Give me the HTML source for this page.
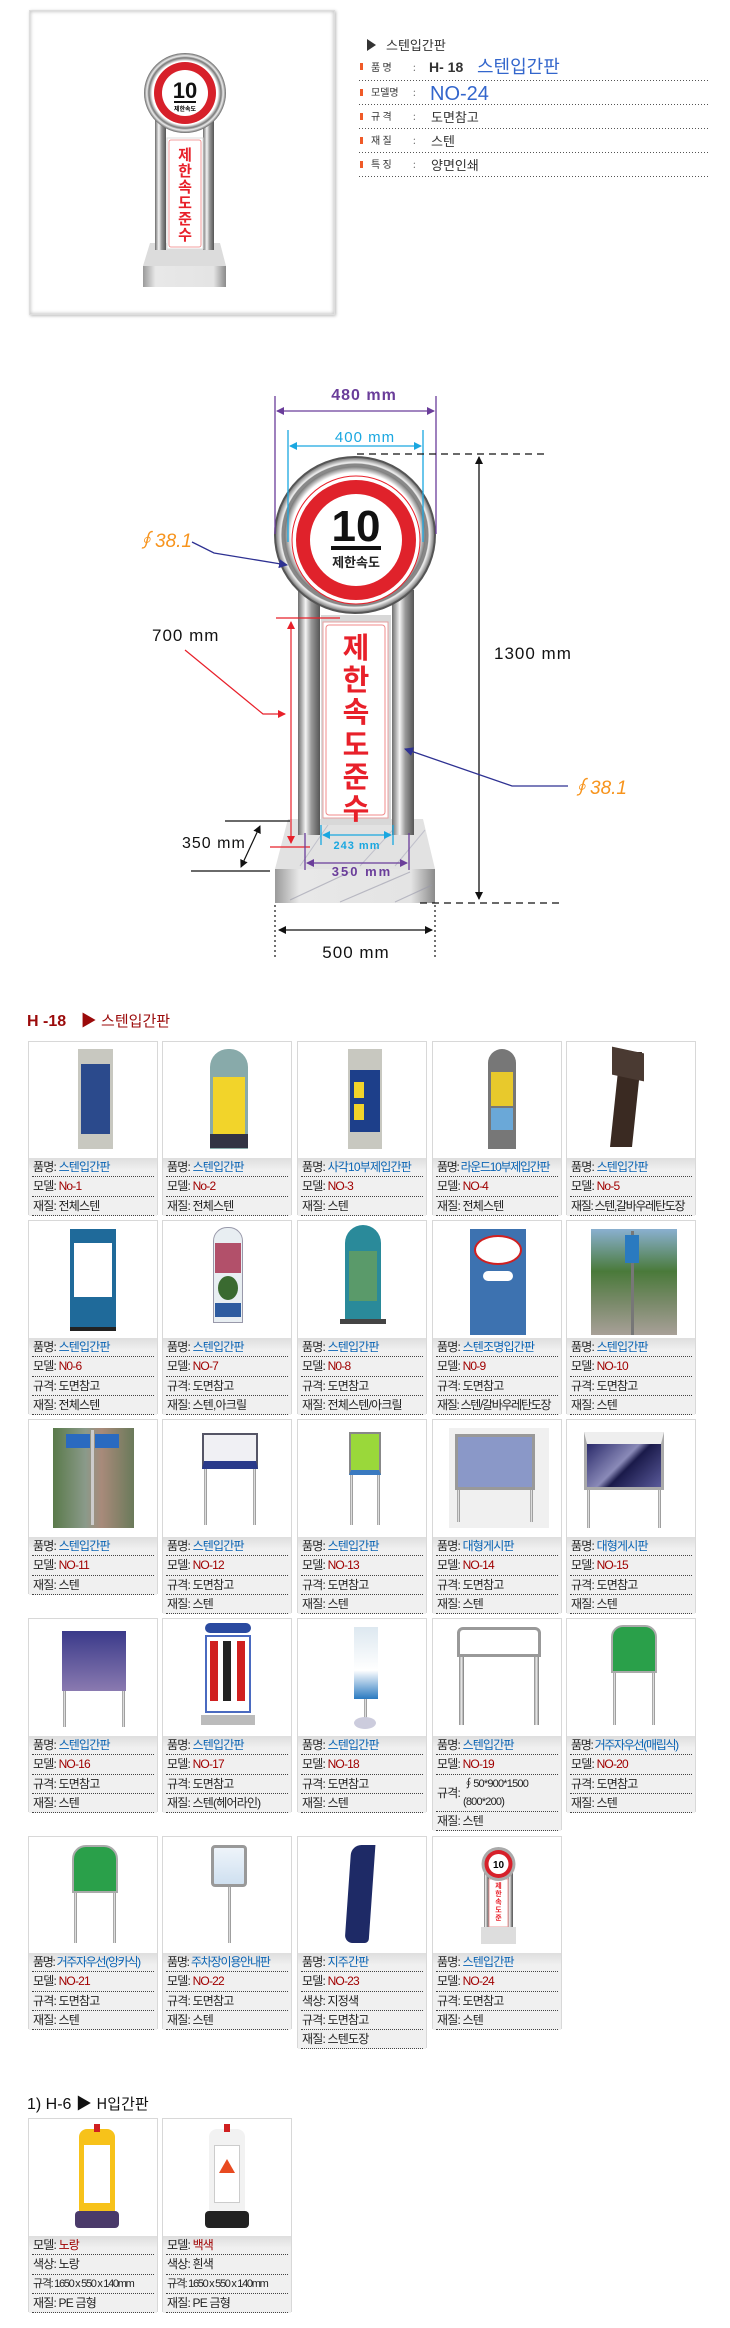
<!DOCTYPE html>
<html><head><meta charset="utf-8">
<style>
*{margin:0;padding:0;box-sizing:border-box}
body{width:730px;height:2328px;background:#fff;position:relative;overflow:hidden;font-family:"Liberation Sans","Noto Sans CJK KR",sans-serif;color:#222}
.a{position:absolute}
.c{position:absolute;width:130px;border:1px solid #d8d8d8;background:#fff}
.cap{position:absolute;left:0;right:0;background:linear-gradient(#dedede,#f0f0f0 12px,#f0f0f0)}
.r{height:19.3px;line-height:19px;font-size:12px;letter-spacing:-0.8px;margin:0 3px;border-bottom:1px dotted #444;white-space:nowrap;overflow:hidden;padding-left:1px}
.b{color:#0a64b4}.m{color:#a00000}
.post{position:absolute;width:3px;background:linear-gradient(90deg,#888,#eee,#777)}
</style></head><body>

<div class="a" style="left:29px;top:10px;width:306px;height:305px;border:1px solid #ddd;box-shadow:0 0 3px 1px #ccc inset,1px 1px 3px #bbb;background:#fff"></div>
<svg class="a" style="left:0;top:0" width="730" height="1000" viewBox="0 0 730 1000">
<defs>
<linearGradient id="pg" x1="0" x2="1"><stop offset="0" stop-color="#6d6d6d"/><stop offset=".35" stop-color="#f4f4f4"/><stop offset=".6" stop-color="#9a9a9a"/><stop offset="1" stop-color="#555"/></linearGradient>
<linearGradient id="bg" x1="0" x2="1"><stop offset="0" stop-color="#9a9a9a"/><stop offset=".15" stop-color="#e8e8e8"/><stop offset=".85" stop-color="#e4e4e4"/><stop offset="1" stop-color="#8a8a8a"/></linearGradient>
<radialGradient id="rg"><stop offset=".8" stop-color="#fff"/><stop offset=".88" stop-color="#777"/><stop offset=".93" stop-color="#eee"/><stop offset="1" stop-color="#666"/></radialGradient>
<marker id="ak" markerWidth="8" markerHeight="8" refX="7" refY="4" orient="auto-start-reverse" markerUnits="userSpaceOnUse"><path d="M0,0 L8,4 L0,8 z" fill="#111"/></marker>
<marker id="ap" markerWidth="8" markerHeight="8" refX="7" refY="4" orient="auto-start-reverse" markerUnits="userSpaceOnUse"><path d="M0,0 L8,4 L0,8 z" fill="#6a3d9a"/></marker>
<marker id="ac" markerWidth="8" markerHeight="8" refX="7" refY="4" orient="auto-start-reverse" markerUnits="userSpaceOnUse"><path d="M0,0 L8,4 L0,8 z" fill="#1aa7e0"/></marker>
<marker id="ar" markerWidth="8" markerHeight="8" refX="7" refY="4" orient="auto-start-reverse" markerUnits="userSpaceOnUse"><path d="M0,0 L8,4 L0,8 z" fill="#e8202a"/></marker>
<marker id="an" markerWidth="9" markerHeight="9" refX="8" refY="4.5" orient="auto" markerUnits="userSpaceOnUse"><path d="M0,0 L9,4.5 L0,9 z" fill="#2e3192"/></marker>
</defs>

<g>
<polygon points="150,243 220,243 226,266 143,266" fill="#dcdcdc"/>
<rect x="143" y="266" width="83" height="21" fill="url(#bg)"/>
<rect x="155" y="120" width="11" height="130" fill="url(#pg)"/>
<rect x="203" y="120" width="11" height="130" fill="url(#pg)"/>
<rect x="167" y="138" width="36" height="111" fill="#fff" stroke="#ddd"/>
<rect x="169" y="140" width="32" height="107" fill="none" stroke="#f08080" stroke-width=".8" rx="2"/>
<text x="185" y="240" font-size="15" font-weight="bold" fill="#e8202a" text-anchor="middle" font-family="Noto Sans CJK KR,sans-serif"><tspan x="185" y="160">제</tspan><tspan x="185" y="176">한</tspan><tspan x="185" y="192">속</tspan><tspan x="185" y="208">도</tspan><tspan x="185" y="224">준</tspan><tspan x="185" y="240">수</tspan></text>
<ellipse cx="185" cy="93" rx="41" ry="40" fill="url(#rg)"/>
<circle cx="185" cy="93" r="31" fill="#d7202a"/>
<circle cx="185" cy="93" r="23" fill="#fff"/>
<text x="185" y="98" font-size="22" font-weight="bold" text-anchor="middle" fill="#111">10</text>
<rect x="174" y="101" width="22" height="2" fill="#111"/>
<text x="185" y="111" font-size="6" font-weight="bold" text-anchor="middle" font-family="Noto Sans CJK KR,sans-serif">제한속도</text>
</g>

<polygon points="367,39 367,51 376,45" fill="#333"/>
<text x="386" y="50" font-size="13" fill="#333" font-family="Noto Sans CJK KR,sans-serif">스텐입간판</text>
<g font-family="Noto Sans CJK KR,sans-serif">
<g fill="#f05a28"><rect x="360" y="63" width="3" height="7"/><rect x="360" y="89" width="3" height="7"/><rect x="360" y="113" width="3" height="7"/><rect x="360" y="137" width="3" height="7"/><rect x="360" y="161" width="3" height="7"/></g>
<g font-size="10" fill="#333"><text x="371" y="71">품 명</text><text x="371" y="96">모델명</text><text x="371" y="120">규 격</text><text x="371" y="144">재 질</text><text x="371" y="168">특 징</text></g>
<g font-size="10" fill="#777"><text x="413" y="71">:</text><text x="413" y="96">:</text><text x="413" y="120">:</text><text x="413" y="144">:</text><text x="413" y="168">:</text></g>
<text x="429" y="72" font-size="14" font-weight="bold" fill="#333" font-family="Liberation Sans,sans-serif">H- 18</text>
<text x="477" y="73" font-size="18" fill="#3366cc">스텐입간판</text>
<text x="430" y="100" font-size="20" fill="#3366cc" font-family="Liberation Sans,sans-serif">NO-24</text>
<g font-size="13" fill="#333"><text x="431" y="122">도면참고</text><text x="431" y="146">스텐</text><text x="431" y="170">양면인쇄</text></g>
</g>
<g stroke="#555" stroke-dasharray="1,2" stroke-width="1"><line x1="359" y1="80.5" x2="710" y2="80.5"/><line x1="359" y1="104.5" x2="710" y2="104.5"/><line x1="359" y1="128.5" x2="710" y2="128.5"/><line x1="359" y1="152.5" x2="710" y2="152.5"/><line x1="359" y1="176.5" x2="710" y2="176.5"/></g>

<polygon points="288,819 423,819 435,869 275,869" fill="#e2e2e2"/>
<g stroke="#aab" stroke-width="1" opacity=".6"><line x1="300" y1="866" x2="330" y2="822"/><line x1="360" y1="866" x2="400" y2="822"/><line x1="395" y1="866" x2="425" y2="830"/></g>
<rect x="275" y="869" width="160" height="34" fill="url(#bg)"/>
<g stroke="#99a" stroke-width="1.2" opacity=".6"><line x1="290" y1="900" x2="350" y2="872"/><line x1="340" y1="902" x2="410" y2="872"/><line x1="395" y1="902" x2="432" y2="885"/></g>
<rect x="298" y="590" width="22" height="245" fill="url(#pg)"/>
<rect x="392" y="590" width="22" height="245" fill="url(#pg)"/>
<rect x="321" y="615" width="70" height="210" fill="#d8d8d8"/>
<rect x="323" y="622" width="65" height="196" fill="#fff" stroke="#e9a0a0"/>
<rect x="326" y="625" width="59" height="190" fill="none" stroke="#f08a8a" stroke-width="1" rx="3"/>
<g font-family="Noto Sans CJK KR,sans-serif" font-size="29" font-weight="bold" fill="#e8202a" text-anchor="middle">
<text x="356" y="658">제</text><text x="356" y="690">한</text><text x="356" y="722">속</text><text x="356" y="755">도</text><text x="356" y="787">준</text><text x="356" y="819">수</text></g>
<ellipse cx="355" cy="535" rx="80" ry="78" fill="url(#rg)"/>
<ellipse cx="355" cy="535" rx="80" ry="78" fill="none" stroke="#555" stroke-width="2"/>
<ellipse cx="355" cy="535" rx="72" ry="70" fill="none" stroke="#888" stroke-width="3"/>
<circle cx="356" cy="540" r="64" fill="#fff" stroke="#e8202a" stroke-width="1"/>
<circle cx="356" cy="540" r="60" fill="#e0222b"/>
<circle cx="356" cy="540" r="46" fill="#fff"/>
<text x="356" y="541" font-size="44" font-weight="bold" text-anchor="middle" fill="#111">10</text>
<rect x="331" y="546" width="50" height="4" fill="#111"/>
<text x="356" y="567" font-size="13" font-weight="bold" text-anchor="middle" fill="#222" font-family="Noto Sans CJK KR,sans-serif">제한속도</text>

<g stroke="#6a3d9a" stroke-width="1.3"><line x1="275" y1="396" x2="275" y2="534"/><line x1="436" y1="396" x2="436" y2="534"/><line x1="277" y1="411" x2="434" y2="411" marker-start="url(#ap)" marker-end="url(#ap)"/></g>
<text x="364" y="400" font-size="16" fill="#6a3d9a" text-anchor="middle" font-weight="bold" letter-spacing="1">480 mm</text>
<g stroke="#1aa7e0" stroke-width="1.3"><line x1="288" y1="430" x2="288" y2="542"/><line x1="423" y1="430" x2="423" y2="542"/><line x1="290" y1="446" x2="421" y2="446" marker-start="url(#ac)" marker-end="url(#ac)"/></g>
<text x="365" y="442" font-size="15" fill="#1aa7e0" text-anchor="middle" letter-spacing="1">400 mm</text>
<g stroke="#111" stroke-width="1.2" stroke-dasharray="7,5"><line x1="357" y1="454" x2="548" y2="454"/><line x1="420" y1="903" x2="562" y2="903"/></g>
<line x1="479" y1="457" x2="479" y2="899" stroke="#111" stroke-width="1.3" marker-start="url(#ak)" marker-end="url(#ak)"/>
<text x="494" y="659" font-size="17" fill="#111" letter-spacing="1">1300 mm</text>
<g stroke="#111" stroke-width="1.2" stroke-dasharray="2,3"><line x1="275" y1="905" x2="275" y2="958"/><line x1="435" y1="905" x2="435" y2="958"/></g>
<line x1="279" y1="930" x2="432" y2="930" stroke="#111" stroke-width="1.3" marker-start="url(#ak)" marker-end="url(#ak)"/>
<text x="356" y="958" font-size="17" fill="#111" text-anchor="middle" letter-spacing="1">500 mm</text>
<g stroke="#e8202a" stroke-width="1.2"><line x1="276" y1="618" x2="340" y2="618"/><line x1="270" y1="847" x2="310" y2="847"/><line x1="291" y1="622" x2="291" y2="843" marker-start="url(#ar)" marker-end="url(#ar)"/><polyline points="185,650 263,714 285,714" fill="none" marker-end="url(#ar)"/></g>
<text x="152" y="641" font-size="17" fill="#111" letter-spacing="1">700 mm</text>
<g stroke="#111" stroke-width="1.2"><line x1="225" y1="821" x2="290" y2="821"/><line x1="191" y1="871" x2="270" y2="871"/><line x1="260" y1="826" x2="241" y2="867" marker-start="url(#ak)" marker-end="url(#ak)"/></g>
<text x="182" y="848" font-size="16" fill="#111" letter-spacing="1">350 mm</text>
<g stroke="#1aa7e0" stroke-width="1.3"><line x1="321" y1="825" x2="321" y2="845"/><line x1="393" y1="825" x2="393" y2="845"/><line x1="323" y1="835" x2="391" y2="835" marker-start="url(#ac)" marker-end="url(#ac)"/></g>
<text x="357" y="849" font-size="11" fill="#1aa7e0" text-anchor="middle" font-weight="bold" letter-spacing="1">243 mm</text>
<g stroke="#6a3d9a" stroke-width="1.3"><line x1="305" y1="833" x2="305" y2="870"/><line x1="409" y1="833" x2="409" y2="870"/><line x1="307" y1="863" x2="407" y2="863" marker-start="url(#ap)" marker-end="url(#ap)"/></g>
<text x="362" y="876" font-size="13" fill="#6a3d9a" text-anchor="middle" font-weight="bold" letter-spacing="2">350 mm</text>
<text x="136" y="547" font-size="19" fill="#f7941d" font-style="italic">∮38.1</text>
<polyline points="192,542 214,553 287,565" fill="none" stroke="#2e3192" stroke-width="1.3" marker-end="url(#an)"/>
<text x="571" y="794" font-size="19" fill="#f7941d" font-style="italic">∮38.1</text>
<polyline points="568,786 512,786 405,749" fill="none" stroke="#2e3192" stroke-width="1.3" marker-end="url(#an)"/>
</svg>

<div class="a" style="left:27px;top:1007px;font-size:16px;color:#9b0a0a;font-weight:bold;white-space:nowrap">H -18 <span style="margin-left:10px">▶</span> <span style="font-weight:normal;font-size:15px;font-family:'Noto Sans CJK KR',sans-serif">스텐입간판</span></div>

<div class="c" style="left:28px;top:1041px;height:174px">
 <div class="a" style="left:49px;top:7px;width:35px;height:100px;background:#c8c8c0"></div><div class="a" style="left:52px;top:22px;width:29px;height:70px;background:#2b4a8c"></div>
 <div class="cap" style="top:116px"><div class="r">품명: <span class="b">스텐입간판</span></div><div class="r">모델: <span class="m">No-1</span></div><div class="r">재질: 전체스텐</div></div></div>
<div class="c" style="left:162px;top:1041px;height:174px">
 <div class="a" style="left:47px;top:7px;width:38px;height:100px;background:#8aa;border-radius:18px 18px 0 0"></div><div class="a" style="left:50px;top:35px;width:32px;height:58px;background:#f2d42a"></div><div class="a" style="left:47px;top:92px;width:38px;height:14px;background:#334"></div>
 <div class="cap" style="top:116px"><div class="r">품명: <span class="b">스텐입간판</span></div><div class="r">모델: <span class="m">No-2</span></div><div class="r">재질: 전체스텐</div></div></div>
<div class="c" style="left:297px;top:1041px;height:174px">
 <div class="a" style="left:50px;top:7px;width:34px;height:100px;background:#c8c8c0"></div><div class="a" style="left:52px;top:28px;width:30px;height:62px;background:#1d3f8a"></div><div class="a" style="left:56px;top:40px;width:10px;height:16px;background:#f2d42a"></div><div class="a" style="left:56px;top:62px;width:10px;height:16px;background:#f2d42a"></div>
 <div class="cap" style="top:116px"><div class="r">품명: <span class="b">사각10부제입간판</span></div><div class="r">모델: <span class="m">NO-3</span></div><div class="r">재질: 스텐</div></div></div>
<div class="c" style="left:432px;top:1041px;height:174px">
 <div class="a" style="left:55px;top:7px;width:28px;height:100px;background:#777;border-radius:14px 14px 0 0"></div><div class="a" style="left:58px;top:30px;width:22px;height:34px;background:#e8c92c"></div><div class="a" style="left:58px;top:66px;width:22px;height:22px;background:#6aa8d8"></div>
 <div class="cap" style="top:116px"><div class="r" style="letter-spacing:-1.3px">품명: <span class="b">라운드10부제입간판</span></div><div class="r">모델: <span class="m">NO-4</span></div><div class="r">재질: 전체스텐</div></div></div>
<div class="c" style="left:566px;top:1041px;height:174px">
 <div class="a" style="left:48px;top:10px;width:22px;height:95px;background:#3a2a22;transform:skewX(-6deg)"></div><div class="a" style="left:45px;top:8px;width:32px;height:28px;background:#4a3a32;transform:skewY(12deg)"></div>
 <div class="cap" style="top:116px"><div class="r">품명: <span class="b">스텐입간판</span></div><div class="r">모델: <span class="m">No-5</span></div><div class="r" style="letter-spacing:-1.3px">재질: 스텐,갈바우레탄도장</div></div></div>

<div class="c" style="left:28px;top:1220px;height:194px">
 <div class="a" style="left:41px;top:8px;width:46px;height:98px;background:#1f6a9a"></div><div class="a" style="left:45px;top:22px;width:38px;height:54px;background:#fff"></div><div class="a" style="left:41px;top:106px;width:46px;height:4px;background:#222"></div>
 <div class="cap" style="top:117px"><div class="r">품명: <span class="b">스텐입간판</span></div><div class="r">모델: <span class="m">N0-6</span></div><div class="r">규격: 도면참고</div><div class="r">재질: 전체스텐</div></div></div>
<div class="c" style="left:162px;top:1220px;height:194px">
 <div class="a" style="left:50px;top:6px;width:30px;height:96px;background:#e8eef2;border:1px solid #99a;border-radius:14px 14px 0 0"></div><div class="a" style="left:52px;top:22px;width:26px;height:30px;background:#b2506a"></div><div class="a" style="left:55px;top:55px;width:20px;height:24px;background:#3a6a30;border-radius:50%"></div><div class="a" style="left:52px;top:82px;width:26px;height:14px;background:#2e5ca0"></div>
 <div class="cap" style="top:117px"><div class="r">품명: <span class="b">스텐입간판</span></div><div class="r">모델: <span class="m">NO-7</span></div><div class="r">규격: 도면참고</div><div class="r">재질: 스텐,아크릴</div></div></div>
<div class="c" style="left:297px;top:1220px;height:194px">
 <div class="a" style="left:47px;top:4px;width:36px;height:96px;background:#2a8a9a;border-radius:18px 18px 0 0"></div><div class="a" style="left:51px;top:30px;width:28px;height:50px;background:#5a9a6a"></div><div class="a" style="left:42px;top:98px;width:46px;height:5px;background:#444"></div>
 <div class="cap" style="top:117px"><div class="r">품명: <span class="b">스텐입간판</span></div><div class="r">모델: <span class="m">N0-8</span></div><div class="r">규격: 도면참고</div><div class="r">재질: 전체스텐/아크릴</div></div></div>
<div class="c" style="left:432px;top:1220px;height:194px">
 <div class="a" style="left:37px;top:8px;width:56px;height:106px;background:#3d72b0"></div><div class="a" style="left:41px;top:14px;width:48px;height:30px;background:#fff;border:2px solid #d02020;border-radius:50%"></div><div class="a" style="left:50px;top:50px;width:30px;height:10px;background:#fff;border-radius:5px"></div>
 <div class="cap" style="top:117px"><div class="r">품명: <span class="b">스텐조명입간판</span></div><div class="r">모델: <span class="m">N0-9</span></div><div class="r">규격: 도면참고</div><div class="r" style="letter-spacing:-1.3px">재질: 스텐/갈바우레탄도장</div></div></div>
<div class="c" style="left:566px;top:1220px;height:194px">
 <div class="a" style="left:24px;top:8px;width:86px;height:106px;background:linear-gradient(#8ab0d0,#4a7a3a 40%,#7a8a6a 70%,#a8a098)"></div><div class="a" style="left:64px;top:10px;width:3px;height:104px;background:#777"></div><div class="a" style="left:58px;top:14px;width:14px;height:28px;background:#2a7ac0"></div>
 <div class="cap" style="top:117px"><div class="r">품명: <span class="b">스텐입간판</span></div><div class="r">모델: <span class="m">NO-10</span></div><div class="r">규격: 도면참고</div><div class="r">재질: 스텐</div></div></div>

<div class="c" style="left:28px;top:1419px;height:175px">
 <div class="a" style="left:24px;top:8px;width:81px;height:100px;background:linear-gradient(90deg,#5a7a4a,#8a9a8a 40%,#a88a7a 60%,#6a7a5a)"></div><div class="a" style="left:37px;top:14px;width:24px;height:14px;background:#2a6ac0"></div><div class="a" style="left:66px;top:14px;width:24px;height:14px;background:#2a6ac0"></div><div class="a" style="left:62px;top:10px;width:3px;height:95px;background:#ccc"></div>
 <div class="cap" style="top:117px"><div class="r">품명: <span class="b">스텐입간판</span></div><div class="r">모델: <span class="m">NO-11</span></div><div class="r">재질: 스텐</div></div></div>
<div class="c" style="left:162px;top:1419px;height:194px">
 <div class="a" style="left:39px;top:13px;width:56px;height:36px;background:#f0f0f4;border:2px solid #556;border-bottom:8px solid #2a3a8a"></div><div class="post" style="left:41px;top:49px;height:56px"></div><div class="post" style="left:90px;top:49px;height:56px"></div>
 <div class="cap" style="top:117px"><div class="r">품명: <span class="b">스텐입간판</span></div><div class="r">모델: <span class="m">NO-12</span></div><div class="r">규격: 도면참고</div><div class="r">재질: 스텐</div></div></div>
<div class="c" style="left:297px;top:1419px;height:194px">
 <div class="a" style="left:51px;top:12px;width:32px;height:43px;background:#9ad83a;border:2px solid #888;border-bottom:5px solid #3a7ac0"></div><div class="post" style="left:52px;top:55px;height:50px"></div><div class="post" style="left:79px;top:55px;height:50px"></div>
 <div class="cap" style="top:117px"><div class="r">품명: <span class="b">스텐입간판</span></div><div class="r">모델: <span class="m">NO-13</span></div><div class="r">규격: 도면참고</div><div class="r">재질: 스텐</div></div></div>
<div class="c" style="left:432px;top:1419px;height:194px">
 <div class="a" style="left:16px;top:8px;width:100px;height:100px;background:#f0f0f0"></div><div class="a" style="left:22px;top:14px;width:80px;height:56px;background:#8a98c8;border:3px solid #999"></div><div class="post" style="left:24px;top:70px;height:32px"></div><div class="post" style="left:97px;top:70px;height:32px"></div>
 <div class="cap" style="top:117px"><div class="r">품명: <span class="b">대형게시판</span></div><div class="r">모델: <span class="m">NO-14</span></div><div class="r">규격: 도면참고</div><div class="r">재질: 스텐</div></div></div>
<div class="c" style="left:566px;top:1419px;height:194px">
 <div class="a" style="left:17px;top:12px;width:80px;height:58px;background:linear-gradient(135deg,#2a2a6a,#8a8ab8 45%,#1a1a4a 55%,#5a5a9a);border:3px solid #aaa;border-top:12px solid #eee"></div><div class="post" style="left:20px;top:70px;height:38px"></div><div class="post" style="left:91px;top:70px;height:38px"></div>
 <div class="cap" style="top:117px"><div class="r">품명: <span class="b">대형게시판</span></div><div class="r">모델: <span class="m">NO-15</span></div><div class="r">규격: 도면참고</div><div class="r">재질: 스텐</div></div></div>

<div class="c" style="left:28px;top:1618px;height:194px">
 <div class="a" style="left:33px;top:12px;width:64px;height:60px;background:linear-gradient(#3a3a8a,#8a7ab0)"></div><div class="post" style="left:34px;top:72px;height:36px"></div><div class="post" style="left:93px;top:72px;height:36px"></div>
 <div class="cap" style="top:117px"><div class="r">품명: <span class="b">스텐입간판</span></div><div class="r">모델: <span class="m">NO-16</span></div><div class="r">규격: 도면참고</div><div class="r">재질: 스텐</div></div></div>
<div class="c" style="left:162px;top:1618px;height:194px">
 <div class="a" style="left:42px;top:4px;width:46px;height:10px;background:#2a4aa0;border-radius:5px"></div><div class="a" style="left:42px;top:16px;width:46px;height:78px;background:#fff;border:2px solid #4a6ac0"></div><div class="a" style="left:47px;top:22px;width:8px;height:60px;background:#d02020"></div><div class="a" style="left:60px;top:22px;width:8px;height:60px;background:#222"></div><div class="a" style="left:74px;top:22px;width:8px;height:60px;background:#d02020"></div><div class="a" style="left:38px;top:96px;width:54px;height:10px;background:#bbb"></div>
 <div class="cap" style="top:117px"><div class="r">품명: <span class="b">스텐입간판</span></div><div class="r">모델: <span class="m">NO-17</span></div><div class="r">규격: 도면참고</div><div class="r">재질: 스텐(헤어라인)</div></div></div>
<div class="c" style="left:297px;top:1618px;height:194px">
 <div class="a" style="left:56px;top:8px;width:24px;height:72px;background:linear-gradient(#dde8f0,#fff 60%,#2a7ac0)"></div><div class="post" style="left:66px;top:80px;height:24px"></div><div class="a" style="left:56px;top:98px;width:22px;height:12px;background:#ccd;border-radius:50%"></div>
 <div class="cap" style="top:117px"><div class="r">품명: <span class="b">스텐입간판</span></div><div class="r">모델: <span class="m">NO-18</span></div><div class="r">규격: 도면참고</div><div class="r">재질: 스텐</div></div></div>
<div class="c" style="left:432px;top:1618px;height:212px">
 <div class="a" style="left:24px;top:8px;width:84px;height:30px;background:#fff;border:3px solid #999;border-radius:6px 6px 0 0"></div><div class="post" style="left:26px;top:38px;height:68px;width:5px"></div><div class="post" style="left:101px;top:38px;height:68px;width:5px"></div>
 <div class="cap" style="top:117px"><div class="r">품명: <span class="b">스텐입간판</span></div><div class="r">모델: <span class="m">NO-19</span></div><div class="r" style="height:37px;line-height:16px;position:relative"><span style="position:absolute;top:10px">규격:</span><span style="position:absolute;left:27px;top:1px;font-size:11px">∮50*900*1500</span><span style="position:absolute;left:27px;top:19px;font-size:11px">(800*200)</span></div><div class="r">재질: 스텐</div></div></div>
<div class="c" style="left:566px;top:1618px;height:194px">
 <div class="a" style="left:44px;top:6px;width:46px;height:48px;background:#2aa04a;border:2px solid #aaa;border-radius:12px 12px 0 0"></div><div class="post" style="left:46px;top:54px;height:52px"></div><div class="post" style="left:85px;top:54px;height:52px"></div>
 <div class="cap" style="top:117px"><div class="r" style="letter-spacing:-1.3px">품명: <span class="b">거주자우선(매립식)</span></div><div class="r">모델: <span class="m">NO-20</span></div><div class="r">규격: 도면참고</div><div class="r">재질: 스텐</div></div></div>

<div class="c" style="left:28px;top:1836px;height:193px">
 <div class="a" style="left:43px;top:8px;width:46px;height:48px;background:#2aa04a;border:2px solid #aaa;border-radius:14px 14px 0 0"></div><div class="post" style="left:45px;top:56px;height:50px"></div><div class="post" style="left:84px;top:56px;height:50px"></div>
 <div class="cap" style="top:116px"><div class="r" style="letter-spacing:-1.3px">품명: <span class="b">거주자우선(앙카식)</span></div><div class="r">모델: <span class="m">NO-21</span></div><div class="r">규격: 도면참고</div><div class="r">재질: 스텐</div></div></div>
<div class="c" style="left:162px;top:1836px;height:193px">
 <div class="a" style="left:48px;top:8px;width:36px;height:42px;background:linear-gradient(#eef4fa,#cfe0f0);border:3px solid #999;border-radius:4px"></div><div class="post" style="left:65px;top:50px;height:56px"></div>
 <div class="cap" style="top:116px"><div class="r" style="letter-spacing:-1.2px">품명: <span class="b">주차장이용안내판</span></div><div class="r">모델: <span class="m">NO-22</span></div><div class="r">규격: 도면참고</div><div class="r">재질: 스텐</div></div></div>
<div class="c" style="left:297px;top:1836px;height:212px">
 <div class="a" style="left:50px;top:8px;width:24px;height:98px;background:#1e2a66;border-radius:10px 0 4px 8px;transform:skewX(-4deg)"></div>
 <div class="cap" style="top:116px"><div class="r">품명: <span class="b">지주간판</span></div><div class="r">모델: <span class="m">NO-23</span></div><div class="r">색상: 지정색</div><div class="r">규격: 도면참고</div><div class="r">재질: 스텐도장</div></div></div>
<div class="c" style="left:432px;top:1836px;height:193px">
 <svg class="a" style="left:0;top:0" width="130" height="116"><rect x="51" y="36" width="5" height="56" fill="url(#pg)"/><rect x="75" y="36" width="5" height="56" fill="url(#pg)"/><rect x="56" y="42" width="19" height="48" fill="#fff" stroke="#e99"/><text x="65.5" y="86" font-size="7" fill="#e8202a" text-anchor="middle" font-weight="bold" font-family="Noto Sans CJK KR,sans-serif"><tspan x="65.5" y="51">제</tspan><tspan x="65.5" y="59">한</tspan><tspan x="65.5" y="67">속</tspan><tspan x="65.5" y="75">도</tspan><tspan x="65.5" y="83">준</tspan></text><rect x="48" y="90" width="35" height="17" fill="#ddd"/><circle cx="65.5" cy="27" r="17" fill="#aaa"/><circle cx="65.5" cy="27" r="14" fill="#d7202a"/><circle cx="65.5" cy="27" r="10" fill="#fff"/><text x="65.5" y="31" font-size="10" font-weight="bold" text-anchor="middle">10</text></svg>
 <div class="cap" style="top:116px"><div class="r">품명: <span class="b">스텐입간판</span></div><div class="r">모델: <span class="m">NO-24</span></div><div class="r">규격: 도면참고</div><div class="r">재질: 스텐</div></div></div>

<div class="a" style="left:27px;top:2090px;font-size:16px;color:#111;white-space:nowrap">1) H-6 ▶ <span style="font-family:'Noto Sans CJK KR',sans-serif;font-size:15px">H입간판</span></div>
<div class="c" style="left:28px;top:2118px;height:194px">
 <div class="a" style="left:50px;top:10px;width:36px;height:82px;background:#f7c21a;border-radius:8px 8px 0 0"></div><div class="a" style="left:55px;top:26px;width:26px;height:58px;background:#fff"></div><div class="a" style="left:65px;top:5px;width:6px;height:8px;background:#d02020"></div><div class="a" style="left:46px;top:92px;width:44px;height:17px;background:#4a3a6a;border-radius:4px"></div>
 <div class="cap" style="top:117px"><div class="r">모델: <span class="m">노랑</span></div><div class="r">색상: 노랑</div><div class="r" style="letter-spacing:-1.3px;font-size:11px">규격: 1650 x 550 x 140mm</div><div class="r">재질: PE 금형</div></div></div>
<div class="c" style="left:162px;top:2118px;height:194px">
 <div class="a" style="left:46px;top:10px;width:36px;height:82px;background:#f2f2f2;border-radius:8px 8px 0 0"></div><div class="a" style="left:51px;top:26px;width:26px;height:58px;background:#fff;border:1px solid #ccc"></div><div class="a" style="left:56px;top:40px;width:16px;height:14px;background:#e84a20;clip-path:polygon(50% 0,100% 100%,0 100%)"></div><div class="a" style="left:61px;top:5px;width:6px;height:8px;background:#d02020"></div><div class="a" style="left:42px;top:92px;width:44px;height:17px;background:#222;border-radius:4px"></div>
 <div class="cap" style="top:117px"><div class="r">모델: <span class="m">백색</span></div><div class="r">색상: 흰색</div><div class="r" style="letter-spacing:-1.3px;font-size:11px">규격: 1650 x 550 x 140mm</div><div class="r">재질: PE 금형</div></div></div>
</body></html>
